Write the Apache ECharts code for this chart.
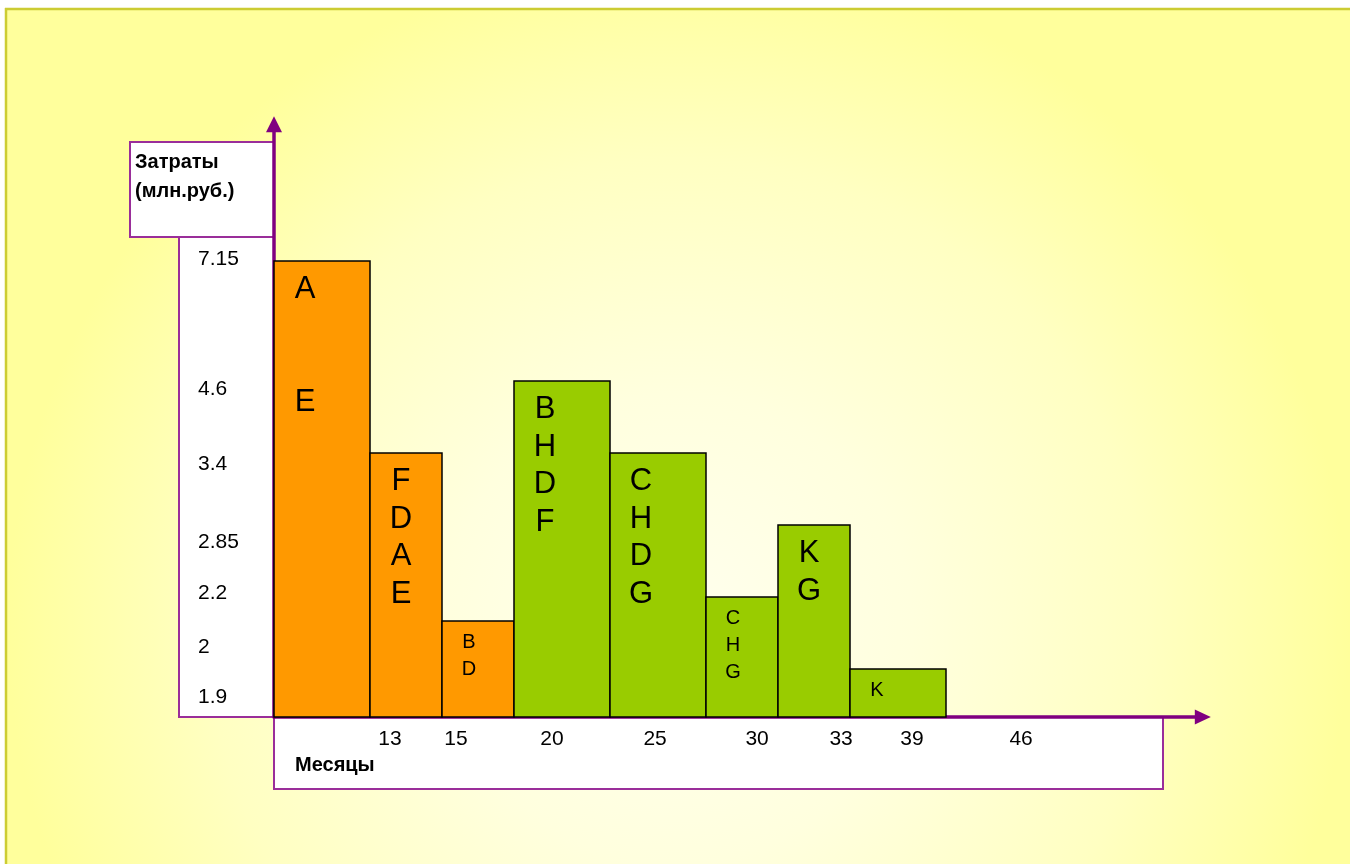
<!DOCTYPE html>
<html>
<head>
<meta charset="utf-8">
<script src="https://cdn.jsdelivr.net/npm/echarts@6/dist/echarts.min.js"></script>
<style>
  html, body { margin: 0; padding: 0; background: #ffffff; }
  #chart { width: 1356px; height: 864px; }
</style>
</head>
<body>
<div id="chart"></div>
<script>
// ---- data ----
// works active in each period (blank entries = empty lines in the label)
const works = [
  ['A', '', '', 'E'],
  ['F', 'D', 'A', 'E'],
  ['B', 'D'],
  ['B', 'H', 'D', 'F'],
  ['C', 'H', 'D', 'G'],
  ['C', 'H', 'G'],
  ['K', 'G'],
  ['K']
];
// width of each period column (chart units)
const periodWidths = [4, 3, 3, 4, 4, 3, 3, 4];
// bar heights on the chart's drawn cost scale (chart units)
const barHeights = [19, 11, 4, 14, 11, 5, 8, 2];
// phase of each bar (first three orange, rest green)
const phases = [0, 0, 0, 1, 1, 1, 1, 1];
// y tick labels (costs, mln rub.) and their levels on the drawn scale
const yTickLabels = ['1.9', '2', '2.2', '2.85', '3.4', '4.6', '7.15'];
const yTickLevels = [0.83, 2.92, 5.17, 7.27, 10.52, 13.67, 19.08];
// x tick labels (months) and their positions on the drawn scale
const xTickLabels = ['13', '15', '20', '25', '30', '33', '39', '46'];
const xTickLevels = [4.83, 7.58, 11.58, 15.88, 20.13, 23.63, 26.58, 31.13];

// ---- build series data ----
const barData = [];
let acc = 0;
for (let i = 0; i < periodWidths.length; i++) {
  barData.push([acc, acc + periodWidths[i], barHeights[i], phases[i]]);
  acc += periodWidths[i];
}

const FONT = "'Liberation Sans', Arial, sans-serif";
const PURPLE = '#800080';
const BOX = '#9A2E9A';
const phaseColors = ['#FF9900', '#99CC00'];

function lookup(levels, labels, v) {
  for (let i = 0; i < levels.length; i++) {
    if (Math.abs(levels[i] - v) < 1e-6) return labels[i];
  }
  return '';
}

const chart = echarts.init(document.getElementById('chart'), null, { renderer: 'canvas' });
chart.setOption({
  backgroundColor: '#ffffff',
  animation: false,
  grid: { left: 274, right: 153.2, top: 124.2, bottom: 147, containLabel: false },
  xAxis: {
    type: 'value', min: 0, max: 38.7,
    splitLine: { show: false },
    axisTick: { show: false },
    axisLine: { show: true, onZero: false, symbol: ['none', 'triangle'], symbolSize: [15, 16],
      lineStyle: { color: PURPLE, width: 3.5 } },
    axisLabel: {
      customValues: xTickLevels,
      formatter: v => lookup(xTickLevels, xTickLabels, v),
      margin: 22, verticalAlign: 'middle', color: '#000', fontSize: 21, fontFamily: FONT,
      showMinLabel: true, showMaxLabel: true
    }
  },
  yAxis: {
    type: 'value', min: 0, max: 24.7,
    splitLine: { show: false },
    axisTick: { show: false },
    axisLine: { show: true, onZero: false, symbol: ['none', 'triangle'], symbolSize: [16, 16],
      lineStyle: { color: PURPLE, width: 3.5 } },
    axisLabel: {
      customValues: yTickLevels,
      formatter: v => lookup(yTickLevels, yTickLabels, v),
      margin: 76, align: 'left', verticalAlign: 'middle', color: '#000', fontSize: 21, fontFamily: FONT,
      showMinLabel: true, showMaxLabel: true
    }
  },
  graphic: [
    { type: 'rect', z: -10, shape: { x: 6, y: 9, width: 1344, height: 860 },
      style: { fill: { type: 'radial', x: 0.5, y: 0.72, r: 0.78,
        colorStops: [ { offset: 0, color: '#FFFFEE' }, { offset: 0.35, color: '#FFFFDE' },
                      { offset: 0.7, color: '#FFFFC2' }, { offset: 1, color: '#FFFF9C' } ] } } },
    { type: 'line', z: -9, shape: { x1: 5, y1: 9, x2: 1350, y2: 9 }, style: { stroke: '#CCCC33', lineWidth: 2.5 } },
    { type: 'line', z: -9, shape: { x1: 6, y1: 8, x2: 6, y2: 864 }, style: { stroke: '#CCCC33', lineWidth: 2.5 } },
    { type: 'rect', z: -5, shape: { x: 130, y: 142, width: 144, height: 95 },
      style: { fill: '#ffffff', stroke: BOX, lineWidth: 2 } },
    { type: 'rect', z: -5, shape: { x: 179, y: 237, width: 95, height: 480 },
      style: { fill: '#ffffff', stroke: BOX, lineWidth: 2 } },
    { type: 'rect', z: -5, shape: { x: 274, y: 717, width: 889, height: 72 },
      style: { fill: '#ffffff', stroke: BOX, lineWidth: 2 } },
    { type: 'text', z: 5, x: 135, y: 148,
      style: { text: 'Затраты\n(млн.руб.)', fontSize: 20, fontWeight: 'bold', lineHeight: 29,
        fontFamily: FONT, fill: '#000', align: 'left', verticalAlign: 'top' } },
    { type: 'text', z: 5, x: 295, y: 765,
      style: { text: 'Месяцы', fontSize: 20, fontWeight: 'bold',
        fontFamily: FONT, fill: '#000', align: 'left', verticalAlign: 'middle' } }
  ],
  series: [{
    type: 'custom',
    data: barData,
    encode: { x: [0, 1], y: 2 },
    renderItem: function (params, api) {
      const x0 = api.value(0), x1 = api.value(1), h = api.value(2), ph = api.value(3);
      const pTop = api.coord([x0, h]);
      const pBot = api.coord([x1, 0]);
      const small = h <= 5;
      return {
        type: 'group',
        children: [
          { type: 'rect',
            shape: { x: pTop[0], y: pTop[1], width: pBot[0] - pTop[0], height: pBot[1] - pTop[1] },
            style: { fill: phaseColors[ph], stroke: '#000', lineWidth: 1.5 } },
          { type: 'text', x: pTop[0] + (small ? 27 : 31), y: pTop[1] + (small ? 8 : 10),
            style: { text: works[params.dataIndex].join('\n'), fontSize: small ? 20 : 31,
              lineHeight: small ? 27 : 37.5, fontFamily: FONT, fill: '#000',
              align: 'center', verticalAlign: 'top' } }
        ]
      };
    }
  }]
});
</script>
</body>
</html>
